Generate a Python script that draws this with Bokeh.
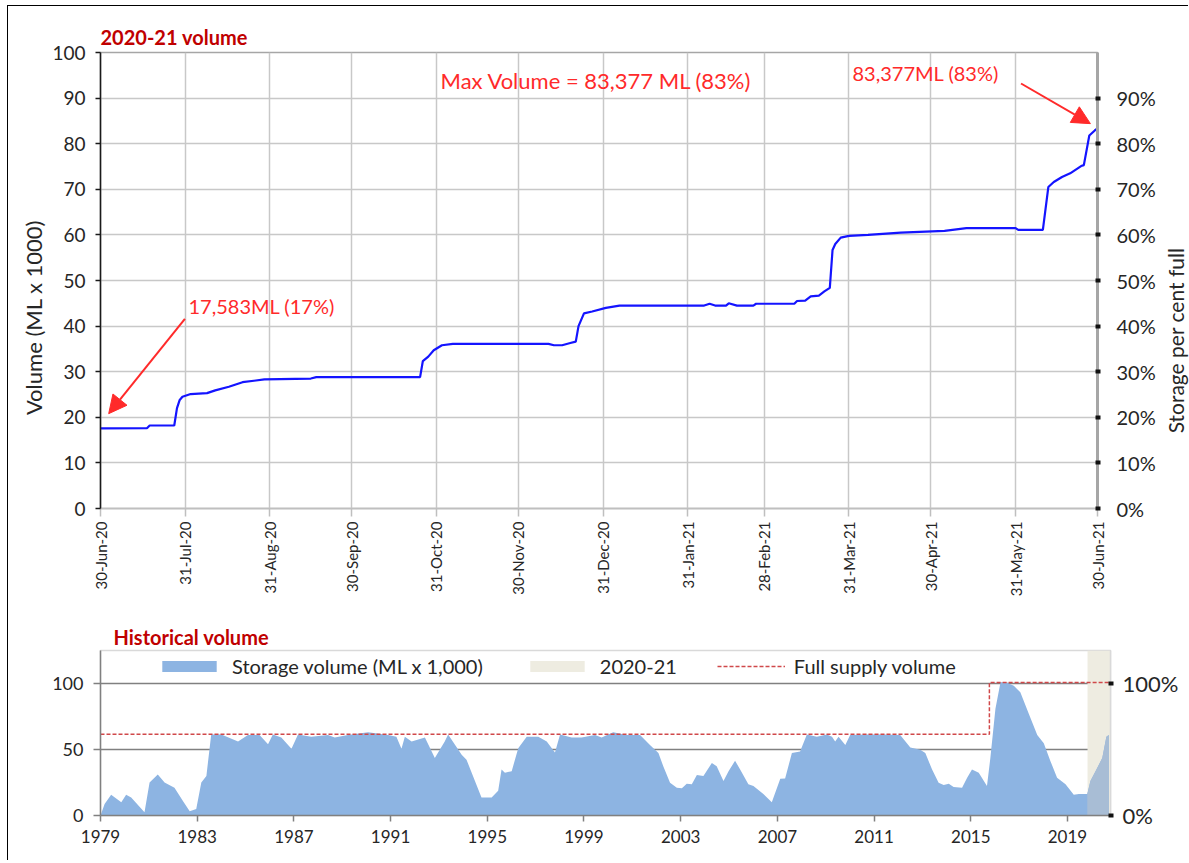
import math
import pandas as pd
from bokeh.plotting import figure
from bokeh.models import (Range1d, LinearAxis, FixedTicker, Label, Arrow, NormalHead,
                          Legend, LegendItem)
from bokeh.core.properties import value
from bokeh.layouts import column, row
from bokeh.embed import file_html
from bokeh.resources import INLINE

FONT = "Lato"
RED = "#ff2a2a"
TITLE_RED = "#c00000"
TXT = "#262626"

# ---------------- 2020-21 storage volume (ML x 1000) ----------------
season_base = "2020-06-30"
vol_dates = ["2020-06-30", "2020-07-17", "2020-07-18", "2020-07-27", "2020-07-28", "2020-07-29",
             "2020-07-30", "2020-08-02", "2020-08-08", "2020-08-11", "2020-08-16", "2020-08-21",
             "2020-08-29", "2020-09-15", "2020-09-17", "2020-10-25", "2020-10-26", "2020-10-28",
             "2020-10-30", "2020-11-02", "2020-11-06", "2020-12-11", "2020-12-13", "2020-12-16",
             "2020-12-19", "2020-12-21", "2020-12-22", "2020-12-24", "2020-12-27", "2021-01-01",
             "2021-01-06", "2021-02-06", "2021-02-08", "2021-02-10", "2021-02-14", "2021-02-15",
             "2021-02-18", "2021-02-24", "2021-02-25", "2021-03-11", "2021-03-12", "2021-03-15",
             "2021-03-17", "2021-03-20", "2021-03-22", "2021-03-24", "2021-03-25", "2021-03-26",
             "2021-03-28", "2021-03-31", "2021-04-07", "2021-04-19", "2021-05-05", "2021-05-13",
             "2021-05-31", "2021-06-01", "2021-06-10", "2021-06-12", "2021-06-14", "2021-06-17",
             "2021-06-20", "2021-06-24", "2021-06-25", "2021-06-27", "2021-06-29", "2021-06-30"]
vol_values = [17.583, 17.6, 18.2, 18.2, 22.0, 23.8,
              24.5, 25.1, 25.3, 25.9, 26.7, 27.7,
              28.3, 28.5, 28.8, 28.8, 32.3, 33.3,
              34.7, 35.8, 36.1, 36.1, 35.8, 35.8,
              36.3, 36.6, 40.0, 42.8, 43.2, 44.0,
              44.5, 44.5, 44.9, 44.5, 44.5, 45.0,
              44.5, 44.5, 44.9, 44.9, 45.5, 45.6,
              46.5, 46.7, 47.6, 48.4, 56.7, 58.0,
              59.4, 59.8, 60.0, 60.5, 60.9, 61.5,
              61.5, 61.1, 61.1, 70.5, 71.6, 72.7,
              73.5, 75.1, 75.3, 81.8, 82.9, 83.377]

month_tick_dates = ["2020-06-30", "2020-07-31", "2020-08-31", "2020-09-30", "2020-10-31",
                    "2020-11-30", "2020-12-31", "2021-01-31", "2021-02-28", "2021-03-31",
                    "2021-04-30", "2021-05-31", "2021-06-30"]
month_tick_labels = ["30-Jun-20", "31-Jul-20", "31-Aug-20", "30-Sep-20", "31-Oct-20",
                     "30-Nov-20", "31-Dec-20", "31-Jan-21", "28-Feb-21", "31-Mar-21",
                     "30-Apr-21", "31-May-21", "30-Jun-21"]
volume_ticks = [0, 10, 20, 30, 40, 50, 60, 70, 80, 90, 100]
pct_ticks = [0, 10, 20, 30, 40, 50, 60, 70, 80, 90]

# ---------------- Historical storage volume (ML x 1000) ----------------
hist_year = [1979.0, 1979.17, 1979.44, 1979.86, 1980.06, 1980.27, 1980.82, 1981.03, 1981.37,
             1981.65, 1982.06, 1982.41, 1982.69, 1982.96, 1983.17, 1983.38, 1983.58, 1984.0,
             1984.69, 1985.1, 1985.58, 1985.93, 1986.13, 1986.48, 1986.9, 1987.17, 1987.72,
             1988.41, 1988.69, 1989.24, 1990.07, 1990.9, 1991.24, 1991.45, 1991.59, 1991.87,
             1992.42, 1992.83, 1993.24, 1993.38, 1993.94, 1994.14, 1994.76, 1995.18, 1995.45,
             1995.59, 1995.73, 1996.01, 1996.28, 1996.63, 1997.11, 1997.46, 1997.8, 1998.01,
             1998.49, 1998.9, 1999.46, 1999.73, 2000.21, 2000.77, 2001.32, 2001.73, 2002.08,
             2002.28, 2002.56, 2002.84, 2003.05, 2003.25, 2003.46, 2003.67, 2003.94, 2004.29,
             2004.49, 2004.77, 2004.98, 2005.25, 2005.46, 2005.8, 2006.01, 2006.42, 2006.77,
             2006.84, 2007.12, 2007.32, 2007.6, 2007.94, 2008.22, 2008.63, 2009.05, 2009.26,
             2009.39, 2009.53, 2009.81, 2010.01, 2010.71, 2011.39, 2012.08, 2012.5, 2012.91,
             2013.12, 2013.4, 2013.67, 2013.88, 2014.09, 2014.29, 2014.64, 2014.85, 2015.05,
             2015.33, 2015.67, 2015.81, 2016.02, 2016.23, 2016.5, 2016.78, 2017.05, 2017.4,
             2017.75, 2018.02, 2018.3, 2018.57, 2018.92, 2019.26, 2019.47, 2019.82, 2019.95,
             2020.23, 2020.44, 2020.61, 2020.71]
hist_volume = [0, 8.7, 15.7, 10, 15.7, 13.7, 2.5, 25, 31,
               25, 21, 11, 3.2, 5, 25, 30, 61.4, 61.4,
               56, 61, 61, 54, 61.4, 59, 50.5, 61.4, 59.7,
               61, 59, 61, 63, 61, 59.7, 50.5, 59.7, 56,
               59, 43.5, 56, 61.4, 46, 42.3, 13.7, 13.7, 18.7,
               34.8, 32.3, 33.6, 51, 59.7, 59.7, 56, 47.8, 61.4,
               59, 59, 61, 59, 63, 61, 61, 53.5, 47.3,
               37.3, 24.9, 21.1, 20.6, 24.1, 23.6, 30.6, 29.9, 39.8,
               37.3, 26.1, 33.6, 41.5, 34.8, 23.6, 22.4, 16.2, 10,
               13.7, 27.9, 28.1, 47.3, 48.5, 61.4, 59.7, 61.4, 59.7,
               56, 59.7, 53.5, 61, 61.4, 61.4, 61, 51.5, 49.8,
               47.3, 34.8, 24.9, 23.1, 24.1, 21.6, 21.1, 28.6, 34.8,
               32.3, 22.4, 43.5, 80.8, 101, 100.5, 98.3, 93.3, 77.1,
               61, 54.7, 41, 28.6, 23.6, 15.7, 16.2, 16.2, 26.1,
               36, 43.5, 59.7, 61]

fsv_year = [1979.0, 2015.77, 2015.77, 2020.78]
fsv_volume = [61.5, 61.5, 100.8, 100.8]

season_start = 2019.83
season_end = 2020.78
hist_year_ticks = [1979, 1983, 1987, 1991, 1995, 1999, 2003, 2007, 2011, 2015, 2019]
hist_volume_ticks = [0, 50, 100]
hist_pct_ticks = [0, 100]

# ---------------- derived ----------------
base = pd.Timestamp(season_base)
vol_days = [(pd.Timestamp(d) - base).days for d in vol_dates]
tick_days = [(pd.Timestamp(d) - base).days for d in month_tick_dates]
season_idx = [i for i, y in enumerate(hist_year) if y >= season_start - 0.02]
season_year = [hist_year[i] for i in season_idx]
season_volume = [hist_volume[i] for i in season_idx]

W = 1181
H1 = 614
LW = 40   # strip holding the left axis title
RW = 26   # strip holding the right axis title


def title_strip(width, height, text, x_px, y_from_top, size):
    """Narrow panel carrying an axis title that reads bottom to top."""
    s = figure(width=width, height=height, x_range=Range1d(0, width), y_range=Range1d(0, height),
               output_backend="svg", toolbar_location=None, min_border=0)
    s.frame_align = False
    s.axis.visible = False
    s.grid.visible = False
    s.outline_line_color = None
    s.background_fill_color = "white"
    s.border_fill_color = "white"
    s.text(x=[x_px], y=[height - y_from_top], text=[text], angle=math.pi / 2,
           text_font=value(FONT), text_font_size=value(size), text_color=TXT,
           text_align="center", text_baseline="middle")
    return s


# =============== Top chart ===============
p1 = figure(width=W - LW - RW, height=H1, x_range=Range1d(0, tick_days[-1]), y_range=Range1d(0, 100),
            output_backend="svg", toolbar_location=None,
            min_border_left=52, min_border_right=W - LW - RW - 52 - 997, min_border_top=46,
            min_border_bottom=112)
p1.frame_align = False
p1.background_fill_color = "white"
p1.border_fill_color = "white"
p1.outline_line_color = "#a6a6a6"
p1.outline_line_width = 1.5

p1.title.text = "2020-21 volume"
p1.title.text_font = FONT
p1.title.text_font_size = "20px"
p1.title.text_font_style = "bold"
p1.title.text_color = TITLE_RED
p1.title.align = "left"
p1.title.standoff = 8

p1.xgrid.ticker = FixedTicker(ticks=tick_days)
p1.ygrid.ticker = FixedTicker(ticks=volume_ticks)
for g in (p1.xgrid, p1.ygrid):
    g.grid_line_color = "#c8c8c8"
    g.grid_line_width = 1.5

xa = p1.xaxis[0]
xa.ticker = FixedTicker(ticks=tick_days)
xa.major_label_overrides = {d: l for d, l in zip(tick_days, month_tick_labels)}
xa.major_label_orientation = math.pi / 2
xa.major_label_text_font = FONT
xa.major_label_text_font_size = "15px"
xa.major_label_text_color = TXT
xa.axis_line_color = "#bfbfbf"
xa.axis_line_width = 1.5
xa.major_tick_line_color = "#bfbfbf"
xa.major_tick_line_width = 1.5
xa.major_tick_out = 8
xa.major_tick_in = 0
xa.minor_tick_line_color = None
xa.major_label_standoff = 5

ya = p1.yaxis[0]
ya.ticker = FixedTicker(ticks=volume_ticks)
ya.major_label_text_font = FONT
ya.major_label_text_font_size = "19px"
ya.major_label_text_color = TXT
ya.axis_line_color = "#1a1a1a"
ya.axis_line_width = 1.5
ya.major_tick_line_color = "#1a1a1a"
ya.major_tick_line_width = 1.5
ya.major_tick_out = 5
ya.major_tick_in = 0
ya.minor_tick_line_color = None
ya.major_label_standoff = 10

p1.extra_y_ranges = {"pct": Range1d(0, 100)}
ra = LinearAxis(y_range_name="pct", ticker=FixedTicker(ticks=pct_ticks),
                major_label_overrides={t: f"{t}%" for t in pct_ticks})
ra.major_label_text_font = FONT
ra.major_label_text_font_size = "20px"
ra.major_label_text_color = TXT
ra.axis_line_color = "#a6a6a6"
ra.axis_line_width = 3
ra.major_tick_line_color = "#111111"
ra.major_tick_line_width = 4
ra.major_tick_out = 3
ra.major_tick_in = 2
ra.minor_tick_line_color = None
ra.major_label_standoff = 16
p1.add_layout(ra, "right")

p1.line(vol_days, vol_values, line_color="#1414ff", line_width=2.2)

p1.add_layout(Label(x=124.5, y=93.9, text="Max Volume = 83,377 ML (83%)", text_font=FONT,
                    text_font_size="22px", text_color=RED, text_baseline="middle"))
p1.add_layout(Label(x=275.3, y=95.4, text="83,377ML (83%)", text_font=FONT,
                    text_font_size="20px", text_color=RED, text_baseline="middle"))
p1.add_layout(Label(x=32.2, y=44.3, text="17,583ML (17%)", text_font=FONT,
                    text_font_size="20px", text_color=RED, text_baseline="middle"))
p1.add_layout(Arrow(end=NormalHead(size=18, fill_color=RED, line_color=RED),
                    x_start=337, y_start=93.2, x_end=362.4, y_end=84.4,
                    line_color=RED, line_width=2))
p1.add_layout(Arrow(end=NormalHead(size=18, fill_color=RED, line_color=RED),
                    x_start=30.9, y_start=41.6, x_end=3.0, y_end=20.8,
                    line_color=RED, line_width=2))

left_title = title_strip(LW, H1, "Volume (ML x 1000)", 25, 311, "22px")
right_title = title_strip(RW, H1, "Storage per cent full", 12, 334, "21px")

# =============== Bottom chart ===============
p2 = figure(width=W, height=241, x_range=Range1d(1979, season_end), y_range=Range1d(0, 125),
            output_backend="svg", toolbar_location=None,
            min_border_left=92, min_border_right=79, min_border_top=27, min_border_bottom=46)
p2.frame_align = False
p2.background_fill_color = "white"
p2.border_fill_color = "white"
p2.outline_line_color = "#d9d9d9"
p2.outline_line_width = 1.5

p2.title.text = "Historical volume"
p2.title.text_font = FONT
p2.title.text_font_size = "20px"
p2.title.text_font_style = "bold"
p2.title.text_color = TITLE_RED
p2.title.align = "left"
p2.title.offset = 13
p2.title.standoff = 4

p2.xgrid.grid_line_color = None
p2.ygrid.ticker = FixedTicker(ticks=hist_volume_ticks)
p2.ygrid.grid_line_color = "#808080"
p2.ygrid.grid_line_width = 1.5

r_shade = p2.quad(left=[season_start], right=[season_end], bottom=[0], top=[125],
                  fill_color="#eeece1", line_alpha=0)
r_area = p2.varea(x=hist_year, y1=[0] * len(hist_year), y2=hist_volume, fill_color="#8db4e2")
p2.varea(x=season_year, y1=[0] * len(season_year), y2=season_volume, fill_color="#a8bdd5")
r_fsv = p2.line(fsv_year, fsv_volume, line_color="#d0484a", line_dash="4 2", line_width=1.5)

xb = p2.xaxis[0]
xb.ticker = FixedTicker(ticks=hist_year_ticks)
xb.major_label_text_font = FONT
xb.major_label_text_font_size = "17px"
xb.major_label_text_color = TXT
xb.axis_line_color = "#808080"
xb.axis_line_width = 1.5
xb.major_tick_line_color = "#808080"
xb.major_tick_line_width = 1.5
xb.major_tick_out = 6
xb.major_tick_in = 0
xb.minor_tick_line_color = None
xb.major_label_standoff = 8

yb = p2.yaxis[0]
yb.ticker = FixedTicker(ticks=hist_volume_ticks)
yb.major_label_text_font = FONT
yb.major_label_text_font_size = "18px"
yb.major_label_text_color = TXT
yb.axis_line_color = "#808080"
yb.axis_line_width = 1.5
yb.major_tick_line_color = "#808080"
yb.major_tick_line_width = 1.5
yb.major_tick_out = 7
yb.major_tick_in = 0
yb.minor_tick_line_color = None
yb.major_label_standoff = 10

p2.extra_y_ranges = {"pct2": Range1d(0, 125)}
rb = LinearAxis(y_range_name="pct2", ticker=FixedTicker(ticks=hist_pct_ticks),
                major_label_overrides={0: "0%", 100: "100%"})
rb.major_label_text_font = FONT
rb.major_label_text_font_size = "22px"
rb.major_label_text_color = TXT
rb.axis_line_color = "#d9d9d9"
rb.axis_line_width = 1.5
rb.major_tick_line_color = "#111111"
rb.major_tick_line_width = 4
rb.major_tick_out = 3
rb.major_tick_in = 2
rb.minor_tick_line_color = None
rb.major_label_standoff = 9
p2.add_layout(rb, "right")

legend = Legend(items=[LegendItem(label="Storage volume (ML x 1,000)", renderers=[r_area]),
                       LegendItem(label="2020-21", renderers=[r_shade]),
                       LegendItem(label="Full supply volume", renderers=[r_fsv])],
                orientation="horizontal", location=(55, 137))
legend.label_text_font = FONT
legend.label_text_font_size = "20px"
legend.label_text_color = TXT
legend.glyph_width = 68
legend.glyph_height = 14
legend.spacing = 40
legend.label_standoff = 9
legend.padding = 0
legend.margin = 0
legend.border_line_alpha = 0
legend.background_fill_alpha = 0
p2.add_layout(legend)

layout = column(row(left_title, p1, right_title), p2,
                styles={"margin-left": "8px", "margin-top": "6px",
                        "box-shadow": "-1px -1px 0 0 #000000"})
open("out.html", "w").write(file_html(layout, INLINE))
